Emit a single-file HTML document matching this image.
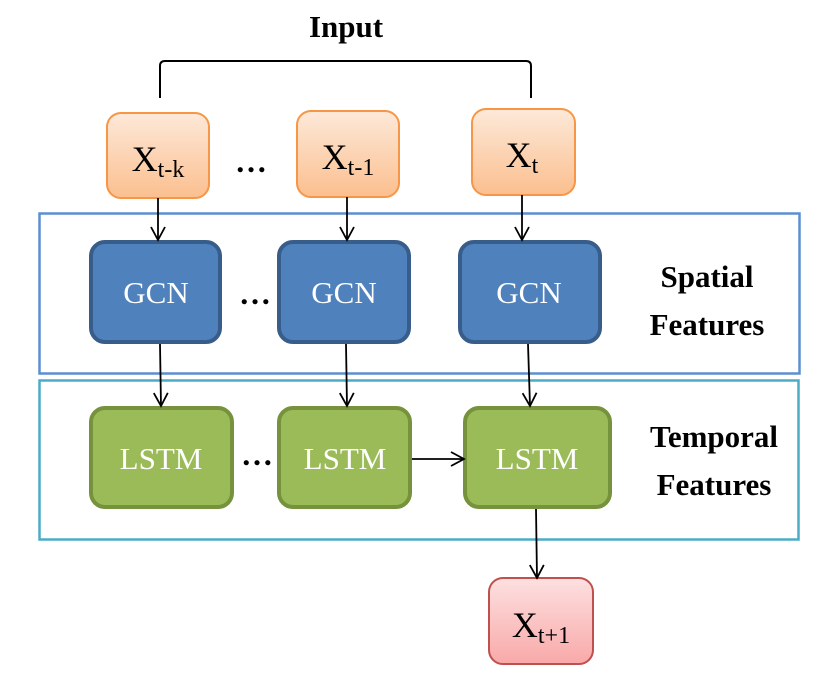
<!DOCTYPE html>
<html><head><style>body{margin:0;background:#fff}</style></head><body>
<svg width="819" height="681" viewBox="0 0 819 681" xmlns="http://www.w3.org/2000/svg" font-family="Liberation Serif, serif">
<defs>
<linearGradient id="og" x1="0" y1="0" x2="0" y2="1"><stop offset="0" stop-color="#fde9d9"/><stop offset="1" stop-color="#fbbf8f"/></linearGradient>
<linearGradient id="rg" x1="0" y1="0" x2="0" y2="1"><stop offset="0" stop-color="#fde0e0"/><stop offset="1" stop-color="#f9a9a9"/></linearGradient>
<marker id="a" markerWidth="20" markerHeight="20" refX="14" refY="8" orient="auto" markerUnits="userSpaceOnUse"><path d="M1,1 L14,8 L1,15" fill="none" stroke="#000" stroke-width="1.8"/></marker>
</defs>
<text x="346" y="37" font-size="31" font-weight="bold" text-anchor="middle">Input</text>
<path d="M160,98 L160,66 Q160,61 165,61 L526,61 Q531,61 531,66 L531,98" fill="none" stroke="#000" stroke-width="2"/>
<rect x="39.5" y="213.5" width="760" height="160" fill="none" stroke="#5b8fd0" stroke-width="2.5"/>
<rect x="39.5" y="380.5" width="759" height="159" fill="none" stroke="#4bacc6" stroke-width="2.5"/>
<g stroke="#f79646" stroke-width="2" fill="url(#og)">
<rect x="107" y="113" width="102" height="85" rx="14"/>
<rect x="297" y="111" width="102" height="86" rx="14"/>
<rect x="472" y="109" width="103" height="86" rx="14"/>
</g>
<g font-size="36" text-anchor="middle">
<text x="158" y="171">X<tspan font-size="24" dy="6">t-k</tspan></text>
<text x="348" y="169">X<tspan font-size="24" dy="6">t-1</tspan></text>
<text x="522" y="167">X<tspan font-size="24" dy="6">t</tspan></text>
</g>
<rect x="489" y="578" width="104" height="86" rx="14" fill="url(#rg)" stroke="#c0504d" stroke-width="2"/>
<text x="541" y="637" font-size="36" text-anchor="middle">X<tspan font-size="24" dy="6">t+1</tspan></text>
<g stroke="#385d8a" stroke-width="4" fill="#4f81bd">
<rect x="91" y="242" width="129" height="100" rx="14"/>
<rect x="279" y="242" width="130" height="100" rx="14"/>
<rect x="460" y="242" width="140" height="100" rx="14"/>
</g>
<g fill="#fff" font-size="31" text-anchor="middle">
<text x="156" y="303">GCN</text><text x="344" y="303">GCN</text><text x="529" y="303">GCN</text>
</g>
<g stroke="#76923c" stroke-width="4" fill="#9bbb59">
<rect x="91" y="408" width="141" height="99" rx="14"/>
<rect x="279" y="408" width="131" height="99" rx="14"/>
<rect x="465" y="408" width="145" height="99" rx="14"/>
</g>
<g fill="#fff" font-size="31" text-anchor="middle">
<text x="161" y="469">LSTM</text><text x="345" y="469">LSTM</text><text x="537" y="469">LSTM</text>
</g>
<g font-size="32" font-weight="bold" text-anchor="middle" letter-spacing="-2">
<text x="250" y="172">…</text><text x="254" y="304">…</text><text x="256" y="465">…</text>
</g>
<g font-size="31" font-weight="bold" text-anchor="middle">
<text x="707" y="287">Spatial</text><text x="707" y="335">Features</text>
<text x="714" y="447">Temporal</text><text x="714" y="495">Features</text>
</g>
<g stroke="#000" stroke-width="1.8" marker-end="url(#a)">
<line x1="158" y1="198" x2="158" y2="240"/>
<line x1="347" y1="197" x2="347" y2="240"/>
<line x1="522" y1="195" x2="522" y2="240"/>
<line x1="160" y1="344" x2="161" y2="406"/>
<line x1="346" y1="344" x2="347" y2="406"/>
<line x1="528" y1="344" x2="530" y2="406"/>
<line x1="412" y1="459" x2="464" y2="459"/>
<line x1="536" y1="509" x2="537" y2="578"/>
</g>
</svg>
</body></html>
